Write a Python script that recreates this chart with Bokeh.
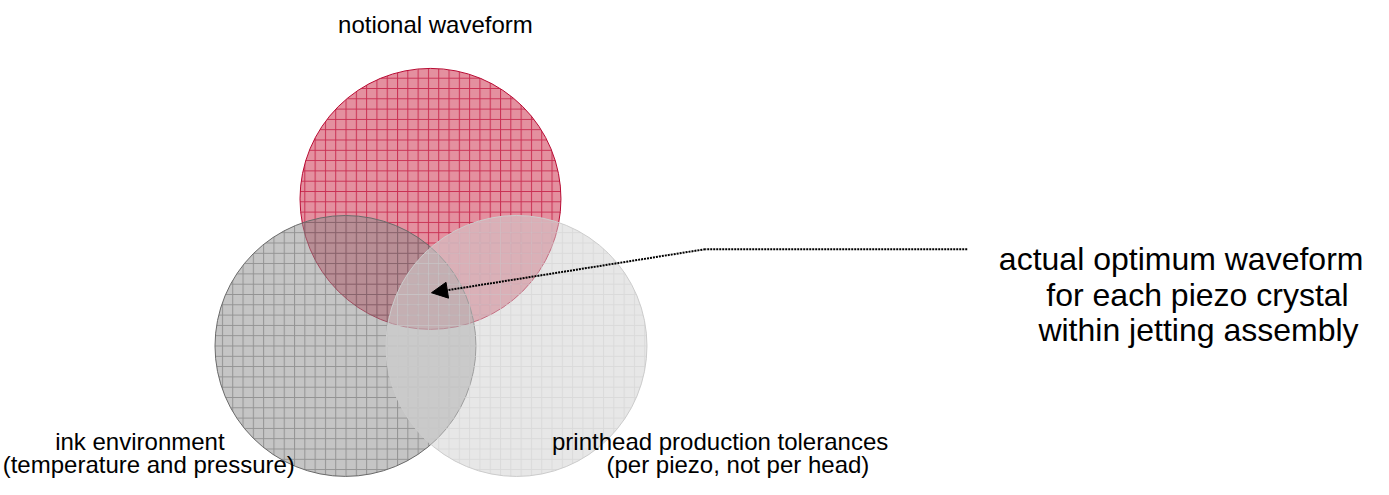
from bokeh.plotting import figure
from bokeh.models import Range1d, Arrow, NormalHead
from bokeh.core.properties import value
from bokeh.embed import file_html
from bokeh.resources import INLINE

# Venn circles (in reference-pixel coordinates)
circle_names = ["notional waveform", "ink environment", "printhead production tolerances"]
circle_x = [435, 349, 522]
circle_y = [205, 357, 357]
circle_r = [132, 132, 132]
fill_colors = ["#e4909f", "#8c8c8c", "#d0d0d0"]
fill_alphas = [1.0, 0.5, 0.5]
hatch_colors = ["#c0103a", "#6a6a6a", "#d4d4d4"]
hatch_alphas = [0.75, 0.55, 0.7]
line_colors = ["#b80c34", "#6a6a6a", "#cccccc"]

# Labels
label_text = ["notional waveform", "ink environment", "(temperature and pressure)",
              "printhead production tolerances", "(per piezo, not per head)"]
label_x = [440, 141, 150, 728, 746]
label_y = [25, 456, 480, 456, 480]

note_text = ["actual optimum waveform", "for each piezo crystal", "within jetting assembly"]
note_x = [1010, 1058, 1050]
note_y = [267, 304, 341]

# Pointer path
pointer_x = [978, 713]
pointer_y = [257, 257]
arrow_start = (713, 257)
arrow_end = (436, 302)

W, H = 1373, 479
p = figure(width=W, height=H, output_backend="svg", toolbar_location=None,
           x_range=Range1d(0, 1389), y_range=Range1d(495, 0),
           min_border=0, outline_line_color=None)
p.axis.visible = False
p.grid.visible = False
p.background_fill_color = "white"
p.border_fill_color = "white"

for i in range(3):
    p.circle(x=[circle_x[i]], y=[circle_y[i]], radius=circle_r[i],
             fill_color=fill_colors[i], fill_alpha=fill_alphas[i],
             hatch_pattern="+", hatch_scale=10.3, hatch_weight=1,
             hatch_color=hatch_colors[i], hatch_alpha=hatch_alphas[i],
             line_color=line_colors[i], line_width=1)

p.line(pointer_x, pointer_y, line_color="black", line_width=2, line_dash="2 1")
p.add_layout(Arrow(end=NormalHead(size=16, fill_color="black", line_color="black"),
                   x_start=arrow_start[0], y_start=arrow_start[1],
                   x_end=arrow_end[0], y_end=arrow_end[1],
                   line_color="black", line_width=2, line_dash="2 1"))

p.text(x=label_x, y=label_y, text=label_text, text_font=value("Liberation Sans"),
       text_font_size="24px", text_align="center", text_baseline="alphabetic",
       text_color="#000000")
p.text(x=note_x, y=note_y, text=note_text, text_font=value("Liberation Sans"),
       text_font_size="32px", text_align="left", text_baseline="alphabetic",
       text_color="#000000")

open("out.html", "w").write(file_html(p, INLINE))
